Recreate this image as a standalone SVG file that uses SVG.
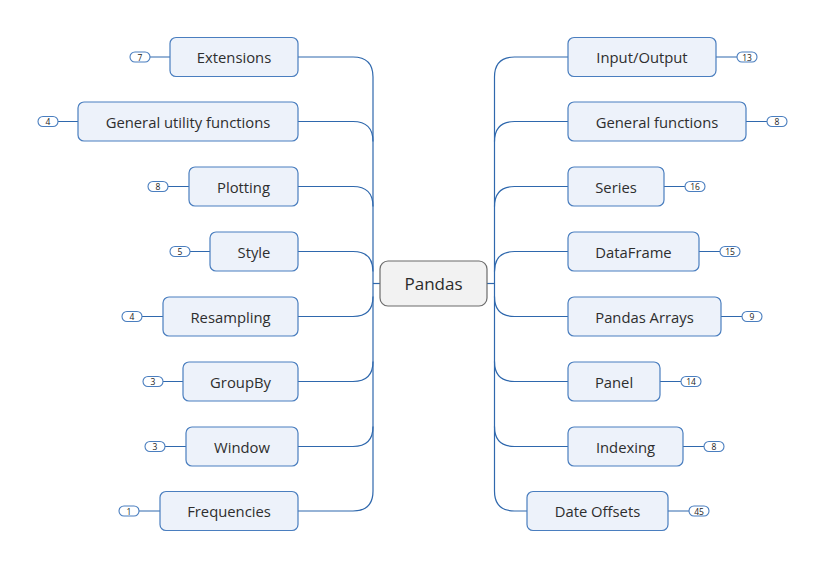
<svg xmlns="http://www.w3.org/2000/svg" width="823" height="568" viewBox="0 0 823 568">
<style>
.n{fill:#edf2fa;stroke:#4a7ebf;stroke-width:1.2}
.c{fill:#f2f2f2;stroke:#6b6b6b;stroke-width:1.2}
.t{font-family:"Open Sans","Noto Sans",sans-serif;font-size:14.8px;fill:#2e2e2e;text-anchor:middle;dominant-baseline:central}
.tc{font-family:"Open Sans","Noto Sans",sans-serif;font-size:17px;fill:#2b2b2b;text-anchor:middle;dominant-baseline:central}
.b{fill:#fff;stroke:#4a7ebf;stroke-width:1.1}
.bt{font-family:"Open Sans","Noto Sans",sans-serif;font-size:8.5px;fill:#222;text-anchor:middle;dominant-baseline:central}
.l{fill:none;stroke:#2f68ad;stroke-width:1.2}
</style>
<rect width="823" height="568" fill="#fff"/>
<g id="connectors">
<path class="l" d="M298,57 H353 Q373,57 373,77 V491 Q373,511 353,511 H298"/>
<path class="l" d="M298,121.5 H353 Q373,121.5 373,141.5"/>
<path class="l" d="M298,186.5 H353 Q373,186.5 373,206.5"/>
<path class="l" d="M298,251.5 H353 Q373,251.5 373,271.5"/>
<path class="l" d="M298,316.5 H353 Q373,316.5 373,296.5"/>
<path class="l" d="M298,381.5 H353 Q373,381.5 373,361.5"/>
<path class="l" d="M298,446.5 H353 Q373,446.5 373,426.5"/>
<path class="l" d="M373,283.5 H380"/>
<path class="l" d="M487,283.5 H494.5"/>
<path class="l" d="M568,57 H514.5 Q494.5,57 494.5,77 V491 Q494.5,511 514.5,511 H527"/>
<path class="l" d="M568,121.5 H514.5 Q494.5,121.5 494.5,141.5"/>
<path class="l" d="M568,186.5 H514.5 Q494.5,186.5 494.5,206.5"/>
<path class="l" d="M568,251.5 H514.5 Q494.5,251.5 494.5,271.5"/>
<path class="l" d="M568,316.5 H514.5 Q494.5,316.5 494.5,296.5"/>
<path class="l" d="M568,381.5 H514.5 Q494.5,381.5 494.5,361.5"/>
<path class="l" d="M568,446.5 H514.5 Q494.5,446.5 494.5,426.5"/>
<path class="l" d="M150,57 H170 M58,121.5 H78 M168,186.5 H189 M190,251.5 H210 M142,316.5 H163 M163,381.5 H183 M165,446.5 H186 M139,511 H160"/>
<path class="l" d="M716,57 H737 M746,121.5 H767 M664,186.5 H685 M699,251.5 H720 M721,316.5 H742 M660,381.5 H681 M683,446.5 H704 M668,511 H689"/>
</g>
<g id="center"><rect class="c" x="380" y="261" width="107" height="45" rx="8"/><text class="tc" x="433.5" y="283.5">Pandas</text></g>
<g id="extensions"><rect class="n" x="170" y="37.5" width="128" height="39" rx="6"/><text class="t" x="234" y="57">Extensions</text><rect class="b" x="130" y="52" width="20" height="10" rx="5"/><text class="bt" x="140" y="57">7</text></g>
<g id="general-utility"><rect class="n" x="78" y="102" width="220" height="39" rx="6"/><text class="t" x="188" y="121.5">General utility functions</text><rect class="b" x="38" y="116.5" width="20" height="10" rx="5"/><text class="bt" x="48" y="121.5">4</text></g>
<g id="plotting"><rect class="n" x="189" y="167" width="109" height="39" rx="6"/><text class="t" x="243.5" y="186.5">Plotting</text><rect class="b" x="148" y="181.5" width="20" height="10" rx="5"/><text class="bt" x="158" y="186.5">8</text></g>
<g id="style"><rect class="n" x="210" y="232" width="88" height="39" rx="6"/><text class="t" x="254" y="251.5">Style</text><rect class="b" x="170" y="246.5" width="20" height="10" rx="5"/><text class="bt" x="180" y="251.5">5</text></g>
<g id="resampling"><rect class="n" x="163" y="297" width="135" height="39" rx="6"/><text class="t" x="230.5" y="316.5">Resampling</text><rect class="b" x="122" y="311.5" width="20" height="10" rx="5"/><text class="bt" x="132" y="316.5">4</text></g>
<g id="groupby"><rect class="n" x="183" y="362" width="115" height="39" rx="6"/><text class="t" x="240.5" y="381.5">GroupBy</text><rect class="b" x="143" y="376.5" width="20" height="10" rx="5"/><text class="bt" x="153" y="381.5">3</text></g>
<g id="window"><rect class="n" x="186" y="427" width="112" height="39" rx="6"/><text class="t" x="242" y="446.5">Window</text><rect class="b" x="145" y="441.5" width="20" height="10" rx="5"/><text class="bt" x="155" y="446.5">3</text></g>
<g id="frequencies"><rect class="n" x="160" y="491.5" width="138" height="39" rx="6"/><text class="t" x="229" y="511">Frequencies</text><rect class="b" x="119" y="506" width="20" height="10" rx="5"/><text class="bt" x="129" y="511">1</text></g>
<g id="input-output"><rect class="n" x="568" y="37.5" width="148" height="39" rx="6"/><text class="t" x="642" y="57">Input/Output</text><rect class="b" x="737" y="52" width="20" height="10" rx="5"/><text class="bt" x="747" y="57">13</text></g>
<g id="general-functions"><rect class="n" x="568" y="102" width="178" height="39" rx="6"/><text class="t" x="657" y="121.5">General functions</text><rect class="b" x="767" y="116.5" width="20" height="10" rx="5"/><text class="bt" x="777" y="121.5">8</text></g>
<g id="series"><rect class="n" x="568" y="167" width="96" height="39" rx="6"/><text class="t" x="616" y="186.5">Series</text><rect class="b" x="685" y="181.5" width="20" height="10" rx="5"/><text class="bt" x="695" y="186.5">16</text></g>
<g id="dataframe"><rect class="n" x="568" y="232" width="131" height="39" rx="6"/><text class="t" x="633.5" y="251.5">DataFrame</text><rect class="b" x="720" y="246.5" width="20" height="10" rx="5"/><text class="bt" x="730" y="251.5">15</text></g>
<g id="pandas-arrays"><rect class="n" x="568" y="297" width="153" height="39" rx="6"/><text class="t" x="644.5" y="316.5">Pandas Arrays</text><rect class="b" x="742" y="311.5" width="20" height="10" rx="5"/><text class="bt" x="752" y="316.5">9</text></g>
<g id="panel"><rect class="n" x="568" y="362" width="92" height="39" rx="6"/><text class="t" x="614" y="381.5">Panel</text><rect class="b" x="681" y="376.5" width="20" height="10" rx="5"/><text class="bt" x="691" y="381.5">14</text></g>
<g id="indexing"><rect class="n" x="568" y="427" width="115" height="39" rx="6"/><text class="t" x="625.5" y="446.5">Indexing</text><rect class="b" x="704" y="441.5" width="20" height="10" rx="5"/><text class="bt" x="714" y="446.5">8</text></g>
<g id="date-offsets"><rect class="n" x="527" y="491.5" width="141" height="39" rx="6"/><text class="t" x="597.5" y="511">Date Offsets</text><rect class="b" x="689" y="506" width="20" height="10" rx="5"/><text class="bt" x="699" y="511">45</text></g>
</svg>
